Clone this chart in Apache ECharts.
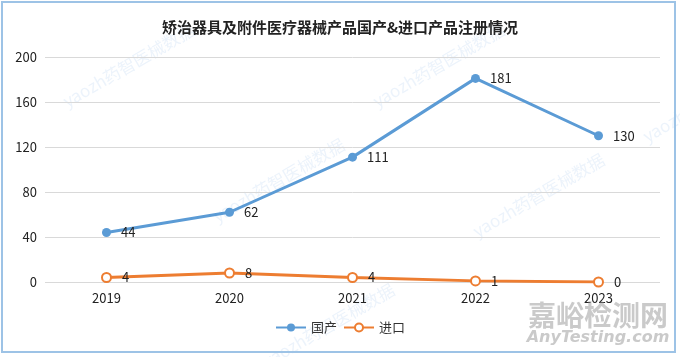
<!DOCTYPE html>
<html><head><meta charset="utf-8">
<script src="https://cdn.jsdelivr.net/npm/echarts@6/dist/echarts.min.js"></script>
<style>html,body{margin:0;padding:0;background:#fff}#c{width:680px;height:357px}</style>
</head><body><div id="c"></div>
<script>
var title = '矫治器具及附件医疗器械产品国产&进口产品注册情况';
var categories = ['2019', '2020', '2021', '2022', '2023'];
var domestic = [44, 62, 111, 181, 130];
var imported = [4, 8, 4, 1, 0];
var seriesNames = ['国产', '进口'];
var yTicks = {min: 0, max: 200, interval: 40};

var font = '"Microsoft YaHei","Noto Sans CJK SC",sans-serif';
var chart = echarts.init(document.getElementById('c'));
var wm = [];
var wmPos = [[60,95],[370,95],[210,210],[470,225],[640,130],[260,355]];
wmPos.forEach(function(p){
  wm.push({type:'text', x:p[0], y:p[1], rotation:Math.PI/6, silent:true, z:0,
    style:{text:'yaozh药智医械数据', fill:'rgba(120,170,225,0.14)', font:'17px ' + font}});
});
wm.push({type:'rect', shape:{x:2,y:2,width:673,height:350}, silent:true,
  style:{fill:null, stroke:'#9DC3E6', lineWidth:2}});
wm.push({type:'text', x:598, y:315, silent:true, z:100,
  style:{text:'嘉峪检测网', fill:'rgba(150,150,150,0.5)', font:'bold 28px ' + font, align:'center', verticalAlign:'middle'}});
wm.push({type:'text', x:598, y:338, silent:true, z:100,
  style:{text:'AnyTesting.com', fill:'rgba(150,150,150,0.5)', font:'italic bold 16px "DejaVu Sans",sans-serif', align:'center', verticalAlign:'middle'}});

chart.setOption({
  animation:false,
  textStyle:{fontFamily:font},
  title:{text:title, left:'center', top:15,
    textStyle:{fontSize:15, fontWeight:'bold', color:'#222', fontFamily:font}},
  grid:{left:45, right:20, top:57, bottom:75},
  legend:{bottom:18, left:'center', itemWidth:30, itemHeight:10, itemGap:6,
    textStyle:{fontSize:13, color:'#333'},
    data:seriesNames},
  xAxis:{type:'category', data:categories, boundaryGap:true,
    axisLine:{show:false}, axisTick:{show:false},
    axisLabel:{fontSize:13, color:'#222', margin:10}},
  yAxis:{type:'value', min:yTicks.min, max:yTicks.max, interval:yTicks.interval,
    axisLine:{show:false}, axisTick:{show:false},
    axisLabel:{fontSize:13, color:'#222', margin:8},
    splitLine:{lineStyle:{color:'#d9d9d9', width:1}}},
  graphic:wm,
  series:[
    {name:seriesNames[0], type:'line', data:domestic, symbol:'circle', symbolSize:9,
      lineStyle:{color:'#5B9BD5', width:3}, itemStyle:{color:'#5B9BD5'},
      label:{show:true, position:'right', distance:10, fontSize:13, color:'#222'}},
    {name:seriesNames[1], type:'line', data:imported, symbol:'circle', symbolSize:9,
      lineStyle:{color:'#ED7D31', width:3},
      itemStyle:{color:'#fff', borderColor:'#ED7D31', borderWidth:2},
      label:{show:true, position:'right', distance:10, fontSize:13, color:'#222'}}
  ]
});
</script></body></html>
